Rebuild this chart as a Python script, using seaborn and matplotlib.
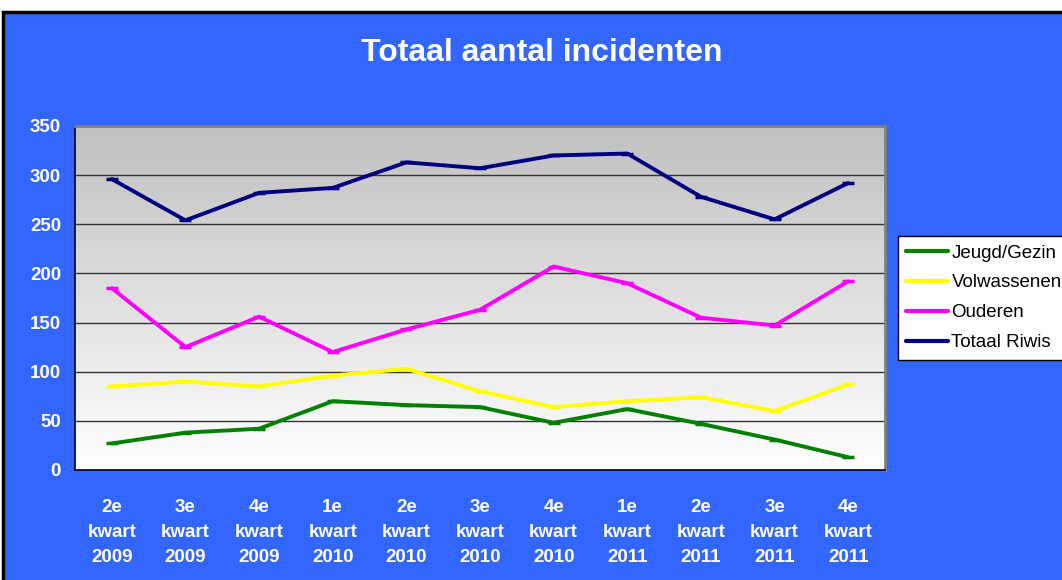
import numpy as np
import pandas as pd
import matplotlib
matplotlib.use("Agg")
import matplotlib.pyplot as plt
from matplotlib.patches import Rectangle
from matplotlib.lines import Line2D
import seaborn as sns

categories = ["2e\nkwart\n2009", "3e\nkwart\n2009", "4e\nkwart\n2009",
              "1e\nkwart\n2010", "2e\nkwart\n2010", "3e\nkwart\n2010",
              "4e\nkwart\n2010", "1e\nkwart\n2011", "2e\nkwart\n2011",
              "3e\nkwart\n2011", "4e\nkwart\n2011"]
jeugd_gezin = [27, 38, 42, 70, 66, 64, 48, 62, 47, 31, 13]
volwassenen = [85, 90, 85, 96, 103, 80, 64, 70, 74, 60, 87]
ouderen = [185, 125, 156, 120, 143, 163, 207, 190, 155, 147, 192]
totaal_riwis = [296, 254, 282, 287, 313, 307, 320, 322, 278, 255, 292]
series_names = ["Jeugd/Gezin", "Volwassenen", "Ouderen", "Totaal Riwis"]
y_ticks = [0, 50, 100, 150, 200, 250, 300, 350]

colors = {"Jeugd/Gezin": "#008000", "Volwassenen": "#FFFF00",
          "Ouderen": "#FF00FF", "Totaal Riwis": "#000080"}

rows = []
for name, vals in zip(series_names, [jeugd_gezin, volwassenen, ouderen, totaal_riwis]):
    for i, v in enumerate(vals):
        rows.append({"x": i, "value": v, "series": name})
df = pd.DataFrame(rows)

sns.set_theme(style="white")
plt.rcParams["font.family"] = ["Liberation Sans", "DejaVu Sans"]

fig = plt.figure(figsize=(10.62, 5.8), dpi=100)
fig.patch.set_facecolor("white")
bg = Rectangle((3 / 1062, -0.01), 1.0, 1 - 12 / 580 + 0.01, transform=fig.transFigure,
               facecolor="#3366FF", edgecolor="black", linewidth=2.5, zorder=-10)
fig.patches.append(bg)

ax = fig.add_axes([75 / 1062, 1 - 470 / 580, 810 / 1062, 344 / 580])
ax.set_facecolor("white")

grad = np.linspace(0, 1, 256).reshape(-1, 1)
ax.imshow(grad, extent=[-0.5, 10.5, 0, 350], aspect="auto", origin="lower",
          cmap=matplotlib.colors.LinearSegmentedColormap.from_list("g", ["#FFFFFF", "#C0C0C0"]),
          zorder=0)

for y in y_ticks[1:-1]:
    ax.axhline(y, color="#333333", linewidth=1.0, zorder=1)

sns.lineplot(data=df, x="x", y="value", hue="series", palette=colors,
             hue_order=series_names, linewidth=2.8, marker="_", markersize=9,
             markeredgewidth=2.5, ax=ax, legend=False, zorder=3)
for ln in ax.get_lines():
    c = ln.get_color()
    if c is not None:
        ln.set_markeredgecolor(c)
        ln.set_markerfacecolor(c)

ax.set_xlim(-0.5, 10.5)
ax.set_ylim(0, 350)
ax.set_yticks(y_ticks)
ax.set_yticklabels([str(t) for t in y_ticks], color="white", fontweight="bold", fontsize=13.5)
ax.set_xticks(range(len(categories)))
ax.set_xticklabels(categories, color="white", fontweight="bold", fontsize=13.5, linespacing=1.6)
ax.set_xticks(np.arange(-0.5, 11, 1), minor=True)
ax.tick_params(axis="x", which="major", length=0, pad=21)
ax.tick_params(axis="x", which="minor", length=6, width=1.2, color="black", direction="out")
ax.tick_params(axis="y", which="major", length=6, width=1.2, color="black", direction="out", pad=4)
ax.set_xlabel("")
ax.set_ylabel("")

for s in ["left", "bottom"]:
    ax.spines[s].set_color("black")
    ax.spines[s].set_linewidth(1.2)
for s in ["top", "right"]:
    ax.spines[s].set_color("#808080")
    ax.spines[s].set_linewidth(2)

fig.text(542 / 1062, 1 - 53 / 580, "Totaal aantal incidenten", color="white",
         fontsize=23, fontweight="bold", ha="center", va="center")

handles = [Line2D([0], [0], color=colors[n], linewidth=3) for n in series_names]
leg = fig.legend(handles, series_names, loc="upper left",
                 bbox_to_anchor=(898 / 1062, 1 - 236 / 580), frameon=True,
                 fontsize=13.5, handlelength=2.2, handletextpad=0.2,
                 labelspacing=0.68, borderpad=0.45, borderaxespad=0,
                 fancybox=False, framealpha=1)
leg.get_frame().set_facecolor("white")
leg.get_frame().set_edgecolor("black")
leg.get_frame().set_linewidth(1.0)
for t in leg.get_texts():
    t.set_color("black")

fig.savefig("out.png", dpi=100, facecolor=fig.get_facecolor())
